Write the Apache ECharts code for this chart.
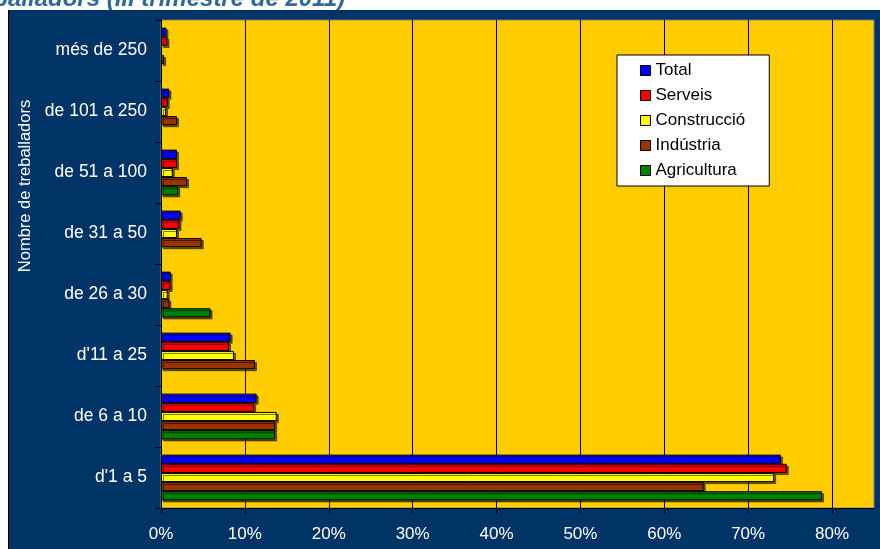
<!DOCTYPE html>
<html>
<head>
<meta charset="utf-8">
<script src="https://cdn.jsdelivr.net/npm/echarts@6/dist/echarts.min.js"></script>
<style>
html,body{margin:0;padding:0;background:#fff;}
#chart{width:880px;height:549px;}
</style>
</head>
<body>
<div id="chart"></div>
<script>
const categories = ["d'1 a 5", "de 6 a 10", "d'11 a 25", "de 26 a 30", "de 31 a 50", "de 51 a 100", "de 101 a 250", "més de 250"];
const total       = [73.9, 11.4, 8.3, 1.15, 2.35, 1.9, 1.0, 0.65];
const serveis     = [74.6, 11.1, 8.1, 1.15, 2.2, 1.9, 0.8, 0.76];
const construccio = [73.1, 13.8, 8.7, 0.8, 1.9, 1.4, 0.6, null];
const industria   = [64.7, 13.6, 11.2, 1.0, 4.85, 3.1, 1.9, 0.36];
const agricultura = [78.8, 13.6, null, 5.9, null, 2.05, null, null];
const tickValues  = [0, 10, 20, 30, 40, 50, 60, 70, 80];
const seriesNames = ['Total', 'Serveis', 'Construcció', 'Indústria', 'Agricultura'];
const seriesColors = ['#0000FF', '#FF0000', '#FFFF00', '#993300', '#008000'];
const seriesData = [total, serveis, construccio, industria, agricultura];

const chart = echarts.init(document.getElementById('chart'));
const font = 'Arial, "Liberation Sans", sans-serif';

const series = seriesNames.map((name, i) => ({
  name: name,
  type: 'bar',
  data: seriesData[i],
  barGap: '0%',
  barCategoryGap: '25%',
  itemStyle: {
    color: seriesColors[i],
    borderColor: '#000',
    borderWidth: 1,
    shadowColor: 'rgba(0,0,0,0.55)',
    shadowOffsetX: 2,
    shadowOffsetY: 2,
    shadowBlur: 0
  },
  emphasis: { disabled: true }
}));

chart.setOption({
  animation: false,
  backgroundColor: '#003366',
  textStyle: { fontFamily: font },
  graphic: [
    { type: 'rect', shape: { x: 0, y: 0, width: 880, height: 10 }, style: { fill: '#fff' }, z: 1 },
    { type: 'rect', shape: { x: 0, y: 0, width: 8, height: 549 }, style: { fill: '#fff' }, z: 1 },
    { type: 'text', x: 345, y: -1, z: 2,
      style: { text: 'Empreses segons nombre de treballadors (III trimestre de 2011)', fill: '#336699',
        font: 'italic bold 24px Arial, "Liberation Sans", sans-serif', textAlign: 'right', textVerticalAlign: 'middle' } },
    { type: 'rect', shape: { x: 8, y: 10, width: 872, height: 9 }, style: { fill: '#003366' }, z: 3 },
    { type: 'line', shape: { x1: 8.5, y1: 10, x2: 8.5, y2: 549 }, style: { stroke: '#000', lineWidth: 1 }, z: 3 },
    { type: 'text', x: 25, y: 186, rotation: Math.PI / 2, z: 3,
      style: { text: 'Nombre de treballadors', fill: '#fff', font: '16.5px Arial, "Liberation Sans", sans-serif',
        textAlign: 'center', textVerticalAlign: 'middle' } }
  ],
  grid: {
    left: 161, right: 6, top: 20, bottom: 41,
    show: true, backgroundColor: '#FFCC00', borderColor: '#808080', borderWidth: 1
  },
  legend: {
    orient: 'vertical',
    left: 617, top: 55,
    data: seriesNames,
    icon: 'rect',
    backgroundColor: '#fff',
    borderColor: '#000',
    borderWidth: 1,
    padding: [7, 24, 7, 23],
    itemWidth: 10, itemHeight: 10,
    itemGap: 8,
    itemStyle: { borderColor: '#000', borderWidth: 1, shadowBlur: 0, shadowOffsetX: 0, shadowOffsetY: 0, shadowColor: 'transparent' },
    textStyle: { color: '#000', fontSize: 17, fontFamily: font },
    selectedMode: false
  },
  xAxis: {
    type: 'value',
    min: 0, max: 85, interval: 10,
    axisLine: { show: true, lineStyle: { color: '#000', width: 1 } },
    axisTick: { show: true, length: 6, lineStyle: { color: '#000' }, customValues: tickValues },
    axisLabel: { color: '#fff', fontSize: 17, margin: 18, customValues: tickValues,
      formatter: v => v + '%' },
    splitLine: { show: true, lineStyle: { color: '#000', width: 1 } }
  },
  yAxis: {
    type: 'category',
    data: categories,
    axisLine: { show: true, lineStyle: { color: '#000', width: 1 } },
    axisTick: { show: true, length: 6, lineStyle: { color: '#000' } },
    axisLabel: { color: '#fff', fontSize: 17.5, margin: 14 },
    splitLine: { show: false }
  },
  series: series
});
</script>
</body>
</html>
